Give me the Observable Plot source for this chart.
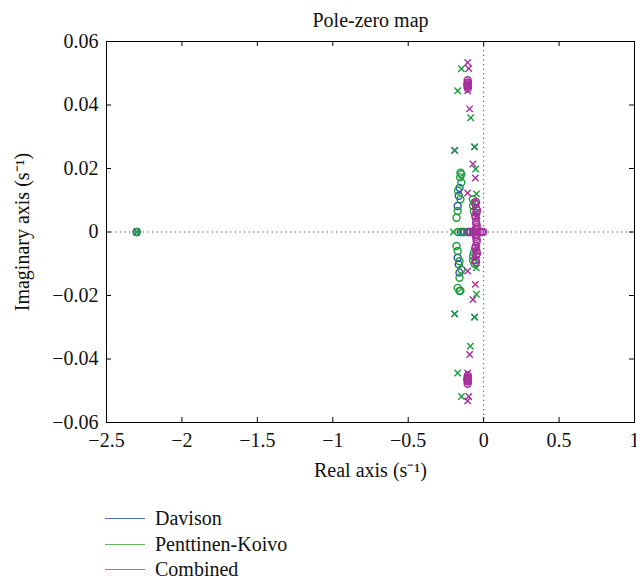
<!DOCTYPE html>
<html>
<head>
<meta charset="utf-8">
<script src="https://cdn.jsdelivr.net/npm/d3@7"></script>
<script src="https://cdn.jsdelivr.net/npm/@observablehq/plot@0.6"></script>
<style>
  body { margin: 0; background: #fff; font-family: "Liberation Serif", serif; }
  #legend { margin-left: 105px; margin-top: 16px; }
  .row { display: flex; align-items: center; height: 25.5px; font-size: 20px; color: #111; }
  .sw { width: 40px; height: 0; border-top: 1.2px solid; margin-right: 10px; }
  svg text { font-family: "Liberation Serif", serif !important; }
</style>
</head>
<body>
<div id="chart"></div>
<div id="legend"></div>
<script>
// ---- data ----
const seriesNames = ["Davison", "Penttinen-Koivo", "Combined"];
const seriesColors = ["#2a4db0", "#1c9c3c", "#a4309c"];
const legendColors = ["#4f6cc4", "#5cb85a", "#c862b8"];
const xTicks = [-2.5, -2, -1.5, -1, -0.5, 0, 0.5, 1];
const yTicks = [-0.06, -0.04, -0.02, 0, 0.02, 0.04, 0.06];

// Davison
const davPoleRe = [-2.3, -0.192, -0.192, -0.06, -0.06];
const davPoleIm = [0, 0.0257, -0.0258, 0.0268, -0.0268];
const davZeroRe = [-2.3, -0.16, -0.165, -0.172, -0.172, -0.165, -0.16, -0.15, -0.13, -0.09];
const davZeroIm = [0, 0.0139, 0.0114, 0.0082, -0.0081, -0.0102, -0.0128, 0, 0, 0];

// Penttinen-Koivo
const pkPoleRe = [-2.3, -0.2, -0.147, -0.147, -0.172, -0.172, -0.086, -0.088, -0.192, -0.192, -0.06, -0.06, -0.053, -0.048, -0.048, -0.048];
const pkPoleIm = [0, 0, 0.0514, -0.0518, 0.0445, -0.0444, 0.036, -0.036, 0.0257, -0.0258, 0.0268, -0.0268, 0.0198, -0.0196, 0.012, -0.0113];
const pkZeroRe = [-2.3,
  -0.154, -0.148, -0.156, -0.148, -0.17, -0.154, -0.172, -0.18,
  -0.18, -0.172, -0.16, -0.148, -0.16, -0.172, -0.16, -0.154,
  -0.071, -0.06, -0.07, -0.065, -0.07, -0.07, -0.06, -0.065,
  -0.17, -0.14, -0.11];
const pkZeroIm = [0,
  0.0187, 0.0182, 0.0172, 0.0156, 0.013, 0.0103, 0.0066, 0.0045,
  -0.0044, -0.006, -0.0092, -0.0118, -0.0144, -0.0176, -0.0186, -0.0185,
  0.0103, 0.0093, 0.0082, 0.0065, -0.0076, -0.009, -0.01, -0.0065,
  0, 0, 0];

// Combined
const cmbPoleRe = [-0.106, -0.106, -0.099, -0.099, -0.106, -0.106, -0.093, -0.093, -0.071, -0.071, -0.055, -0.055, -0.106, -0.106, -0.105, -0.105, -0.045, -0.045];
const cmbPoleIm = [0.0534, -0.0532, 0.0515, -0.0518, 0.0445, -0.0444, 0.0388, -0.0386, 0.0214, -0.0213, 0.017, -0.0165, 0.0123, -0.0123, 0.0467, -0.0467, 0.005, -0.005];
const cmbZeroRe = [
  -0.106, -0.104, -0.108, -0.106, -0.105, -0.107, -0.106,
  -0.106, -0.104, -0.108, -0.106, -0.105, -0.107, -0.106,
  -0.05, -0.048, -0.052, -0.05, -0.046, -0.05, -0.046, -0.052, -0.048, -0.05, -0.054, -0.054,
  -0.044, -0.056, -0.047, -0.053, -0.044, -0.056, -0.047, -0.053, -0.05, -0.05,
  -0.1, -0.085, -0.07, -0.055, -0.04, -0.025, -0.012, -0.003];
const cmbZeroIm = [
  0.0478, 0.0471, 0.0465, 0.0458, 0.0452, 0.0462, 0.0468,
  -0.0478, -0.0471, -0.0465, -0.0458, -0.0452, -0.0462, -0.0468,
  0.0075, 0.006, 0.0045, 0.003, 0.0015, -0.0015, -0.003, -0.0045, -0.006, -0.0075, 0.0088, -0.0088,
  0.0068, 0.0052, 0.0022, 0.0008, -0.0068, -0.0052, -0.0022, -0.0008, 0.0095, -0.0095,
  0, 0, 0, 0, 0, 0, 0, 0];

// ---- build rows ----
function rows(re, im, series, kind) {
  return re.map((r, i) => ({re: r, im: im[i], series, kind}));
}
const poles = [
  ...rows(davPoleRe, davPoleIm, seriesNames[0], "pole"),
  ...rows(pkPoleRe, pkPoleIm, seriesNames[1], "pole"),
  ...rows(cmbPoleRe, cmbPoleIm, seriesNames[2], "pole")
];
const zeros = [
  ...rows(davZeroRe, davZeroIm, seriesNames[0], "zero"),
  ...rows(pkZeroRe, pkZeroIm, seriesNames[1], "zero"),
  ...rows(cmbZeroRe, cmbZeroIm, seriesNames[2], "zero")
];
const allPts = [];
seriesNames.forEach(s => {
  allPts.push(...zeros.filter(d => d.series === s));
  allPts.push(...poles.filter(d => d.series === s));
});

const W = 636, H = 490, mL = 106, mR = 2, mT = 41, mB = 68;
const plotW = W - mL - mR, plotH = H - mT - mB;
const font = "'Liberation Serif', serif";
const fmt = d => d3.format("")(d);

const chart = Plot.plot({
  width: W, height: H,
  marginLeft: mL, marginRight: mR, marginTop: mT, marginBottom: mB,
  style: {fontFamily: font, fontSize: "20px", color: "#111", background: "#fff", overflow: "visible"},
  x: {domain: [-2.5, 1]},
  y: {domain: [-0.06, 0.06]},
  color: {domain: seriesNames, range: seriesColors},
  marks: [
    Plot.ruleX([0], {stroke: "#444", strokeDasharray: "1.2,3.4", strokeWidth: 1}),
    Plot.ruleY([0], {stroke: "#444", strokeDasharray: "1.2,3.4", strokeWidth: 1}),
    Plot.dot(allPts, {
      x: "re", y: "im", stroke: "series",
      symbol: d => d.kind === "pole" ? "times" : "circle",
      r: d => d.kind === "pole" ? 3.7 : 5,
      strokeWidth: 1.4
    }),
    Plot.frame({stroke: "#000", strokeWidth: 1}),
    Plot.tickX(xTicks, {x: d => d, stroke: "#000", insetTop: plotH - 5}),
    Plot.tickX(xTicks, {x: d => d, stroke: "#000", insetBottom: plotH - 5}),
    Plot.tickY(yTicks, {y: d => d, stroke: "#000", insetRight: plotW - 5}),
    Plot.tickY(yTicks, {y: d => d, stroke: "#000", insetLeft: plotW - 5}),
    Plot.axisX(xTicks, {anchor: "bottom", tickSize: 0, tickPadding: 10, label: null, tickFormat: fmt, fontSize: 20, fontFamily: font, fill: "#111"}),
    Plot.axisY(yTicks, {anchor: "left", tickSize: 0, tickPadding: 8, label: null, tickFormat: fmt, fontSize: 20, fontFamily: font, fill: "#111"}),
    Plot.text(["Pole-zero map"], {frameAnchor: "top", dy: -21, lineAnchor: "middle", fontSize: 20, fontFamily: font, fill: "#111"}),
    Plot.text(["Real axis (s⁻¹)"], {frameAnchor: "bottom", dy: 48, lineAnchor: "middle", fontSize: 20, fontFamily: font, fill: "#111"}),
    Plot.text(["Imaginary axis (s⁻¹)"], {frameAnchor: "left", dx: -84, rotate: -90, textAnchor: "middle", lineAnchor: "middle", fontSize: 20, fontFamily: font, fill: "#111"})
  ]
});
d3.select(chart).selectAll("text").style("font-family", font).style("font-variant", "normal");
document.getElementById("chart").appendChild(chart);

const legend = document.getElementById("legend");
seriesNames.forEach((name, i) => {
  const row = document.createElement("div");
  row.className = "row";
  const sw = document.createElement("span");
  sw.className = "sw";
  sw.style.borderTopColor = legendColors[i];
  const label = document.createElement("span");
  label.textContent = name;
  row.appendChild(sw);
  row.appendChild(label);
  legend.appendChild(row);
});
</script>
</body>
</html>
